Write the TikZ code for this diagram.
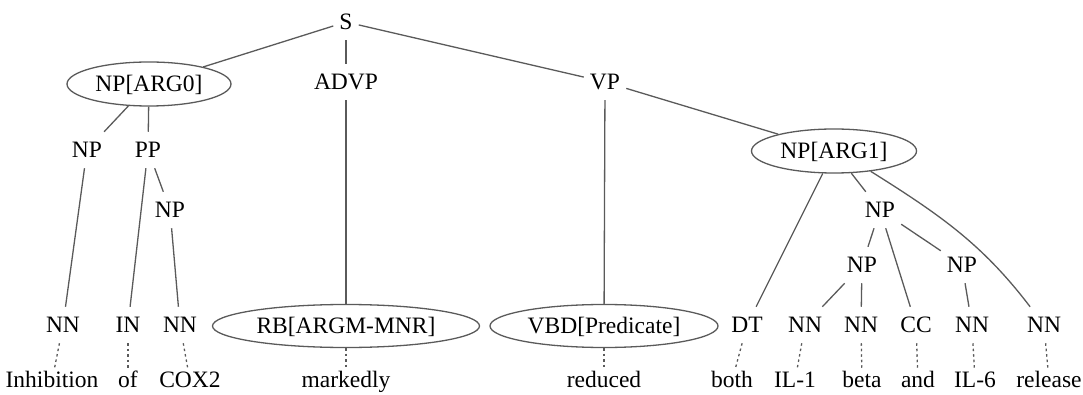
\documentclass[tikz,border=0pt]{standalone}
\usepackage{fontspec}
\setmainfont{Liberation Serif}
\usetikzlibrary{shapes.geometric}
\definecolor{edgegray}{HTML}{5A5A5A}
\begin{document}
\begin{tikzpicture}[x=1pt,y=-1pt,
  lbl/.style={font=\fontsize{23.5}{28}\selectfont, text height=18.8pt, text depth=3.3pt, inner xsep=6pt, inner ysep=7pt},
  word/.style={lbl, inner ysep=0pt, text depth=5pt},
  ell/.style={lbl, ellipse, draw=edgegray, line width=1.3pt, inner sep=0pt, minimum height=44pt},
  tedge/.style={draw=edgegray, line width=1.3pt},
  wordlink/.style={tedge, dash pattern=on 2.5pt off 3pt}]
\useasboundingbox (0,0) rectangle (1083,395);
% inner levels
\node[lbl] (S) at (346,22) {S};
\node[ell, minimum width=164pt] (arg0) at (149,84) {NP[ARG0]};
\node[lbl] (advp) at (346,82) {ADVP};
\node[lbl] (vp) at (605,82) {VP};
\node[lbl] (np1) at (87,150) {NP};
\node[lbl] (pp) at (148,150) {PP};
\node[lbl] (np2) at (170,210) {NP};
\node[ell, minimum width=165pt] (arg1) at (834,151) {NP[ARG1]};
\node[lbl] (np3) at (880,210) {NP};
\node[lbl] (np4) at (862,265) {NP};
\node[lbl] (np5) at (962,265) {NP};
% POS row
\node[lbl] (nn1) at (63,325) {NN};
\node[lbl] (in) at (128,325) {IN};
\node[lbl] (nn2) at (180,325) {NN};
\node[ell, minimum width=267pt, minimum height=43pt] (rb) at (346,326) {RB[ARGM-MNR]};
\node[ell, minimum width=228pt, minimum height=43pt] (vbd) at (604,326) {VBD[Predicate]};
\node[lbl] (dt) at (747,325) {DT};
\node[lbl] (nn3) at (805,325) {NN};
\node[lbl] (nn4) at (861,325) {NN};
\node[lbl] (cc) at (916,325) {CC};
\node[lbl] (nn5) at (972,325) {NN};
\node[lbl] (nn6) at (1044,325) {NN};
% words
\node[word] (w1) at (52,381) {Inhibition};
\node[word] (w2) at (128,381) {of};
\node[word] (w3) at (190,381) {COX2};
\node[word] (w4) at (346,381) {markedly};
\node[word] (w5) at (604,381) {reduced};
\node[word] (w6) at (732,381) {both};
\node[word] (w7) at (795,381) {IL-1};
\node[word] (w8) at (862,381) {beta};
\node[word] (w9) at (918,381) {and};
\node[word] (w10) at (975,381) {IL-6};
\node[word] (w11) at (1049,381) {release};
% tree edges
\draw[tedge] (S) -- (arg0);
\draw[tedge] (S) -- (advp);
\draw[tedge] (S) -- (vp);
\draw[tedge] (arg0) -- (np1);
\draw[tedge] (arg0) -- (pp);
\draw[tedge] (np1) -- (nn1);
\draw[tedge] (pp) -- (in);
\draw[tedge] (pp) -- (np2);
\draw[tedge] (np2) -- (nn2);
\draw[tedge] (advp) -- (rb);
\draw[tedge] (vp) -- (vbd);
\draw[tedge] (vp) -- (arg1);
\draw[tedge] (arg1) -- (dt);
\draw[tedge] (arg1) -- (np3);
\draw[tedge] (arg1.-29) .. controls (942,216) and (983,245) .. (nn6);
\draw[tedge] (np3) -- (np4);
\draw[tedge] (np3) -- (cc);
\draw[tedge] (np3) -- (np5);
\draw[tedge] (np4) -- (nn3);
\draw[tedge] (np4) -- (nn4);
\draw[tedge] (np5) -- (nn5);
% word links
\draw[wordlink] (nn1) -- (w1);
\draw[wordlink] (in) -- (w2);
\draw[wordlink] (nn2) -- (w3);
\draw[wordlink] (rb) -- (w4);
\draw[wordlink] (vbd) -- (w5);
\draw[wordlink] (dt) -- (w6);
\draw[wordlink] (nn3) -- (w7);
\draw[wordlink] (nn4) -- (w8);
\draw[wordlink] (cc) -- (w9);
\draw[wordlink] (nn5) -- (w10);
\draw[wordlink] (nn6) -- (w11);
\end{tikzpicture}
\end{document}
